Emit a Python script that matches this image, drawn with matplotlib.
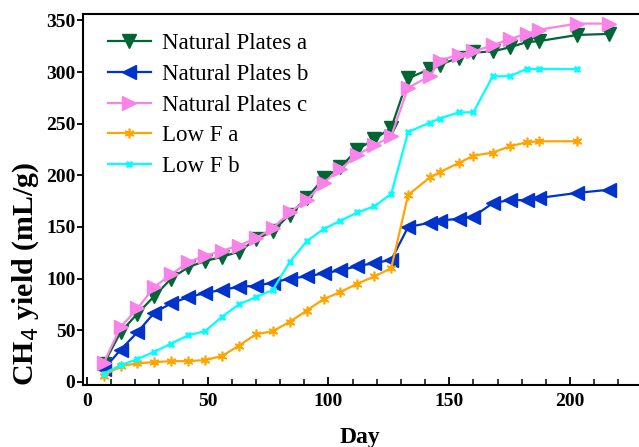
import matplotlib
matplotlib.use("Agg")
import matplotlib.pyplot as plt

days_full = [7, 14, 21, 28, 35, 42, 49, 56, 63, 70, 77, 84, 91, 98, 105, 112, 119, 126,
             133, 142, 146, 154, 160, 168, 175, 182, 187, 203, 216]
days_short = days_full[:-1]

np_a = [17, 48, 66, 83, 100, 111, 117, 121, 126, 138, 146, 162, 178, 197, 208, 225, 235, 246,
        294, 303, 307, 314, 319, 320, 324, 329, 330, 336, 337]
np_b = [12, 31, 48, 67, 76, 82, 86, 89, 92, 93, 96, 100, 102, 105, 108, 112, 115, 118,
        150, 154, 156, 158, 160, 173, 176, 176, 178, 183, 186]
np_c = [18, 53, 71, 92, 104, 116, 122, 127, 132, 139, 149, 164, 176, 193, 206, 220, 229, 238,
        285, 296, 311, 317, 320, 326, 332, 337, 341, 347, 347]
lf_a = [6, 15, 18, 19, 20, 20, 21, 25, 35, 46, 49, 58, 69, 80, 87, 95, 102, 110,
        181, 198, 203, 212, 219, 222, 228, 232, 233, 233]
lf_b = [8, 16, 22, 29, 37, 45, 49, 63, 75, 82, 89, 116, 136, 148, 156, 164, 170, 182,
        242, 251, 255, 261, 261, 296, 296, 303, 303, 303]

labels = ["Natural Plates a", "Natural Plates b", "Natural Plates c", "Low F a", "Low F b"]
colors = ["#006633", "#0033CC", "#F983E8", "#FFA500", "#00FFFF"]

fig = plt.figure(figsize=(6.39, 4.47), dpi=100)
ax = fig.add_axes([0.130, 0.139, 0.868, 0.829])

ax.plot(days_full, np_a, color=colors[0], marker="v", ms=10, lw=1.6, label=labels[0])
ax.plot(days_full, np_b, color=colors[1], marker="<", ms=10, lw=1.6, label=labels[1])
ax.plot(days_full, np_c, color=colors[2], marker=">", ms=10, lw=1.6, label=labels[2])
ax.plot(days_short, lf_a, color=colors[3], marker=(6, 2, 0), ms=7, mew=1.2, lw=1.6, label=labels[3])
ax.plot(days_short, lf_b, color=colors[4], marker="X", ms=5, mew=0.5, lw=1.6, label=labels[4])

ax.set_xlim(-1.5, 228)
ax.set_ylim(-3, 356)
ax.set_xticks([0, 50, 100, 150, 200])
ax.set_xticks(range(10, 230, 10), minor=True)
ax.set_yticks([0, 50, 100, 150, 200, 250, 300, 350])
ax.tick_params(axis="x", which="major", direction="in", length=6, width=1.3, pad=6)
ax.tick_params(axis="x", which="minor", direction="in", length=4, width=1.1)
ax.tick_params(axis="y", which="major", direction="out", length=4, width=1.3, pad=1.5)
for lab in ax.get_xticklabels() + ax.get_yticklabels():
    lab.set_fontfamily("Liberation Serif")
    lab.set_fontweight("bold")
    lab.set_fontsize(14)
for s in ax.spines.values():
    s.set_linewidth(1.5)
ax.spines["right"].set_visible(False)

ax.set_xlabel("Day", fontfamily="Liberation Serif", fontweight="bold", fontsize=17, labelpad=12)
fig.text(26 / 639, 1 - 274 / 447, "CH$_4$ yield (mL/g)", rotation=90, ha="center", va="center",
         fontfamily="Liberation Serif", fontweight="bold", fontsize=21.5)
plt.rcParams["mathtext.fontset"] = "custom"

leg = ax.legend(loc="upper left", frameon=False, prop={"family": "Liberation Serif", "size": 16.5},
                handlelength=1.85, handletextpad=0.5, labelspacing=0.42,
                bbox_to_anchor=(0.008, 1.004))

fig.savefig("out.png", dpi=100)
